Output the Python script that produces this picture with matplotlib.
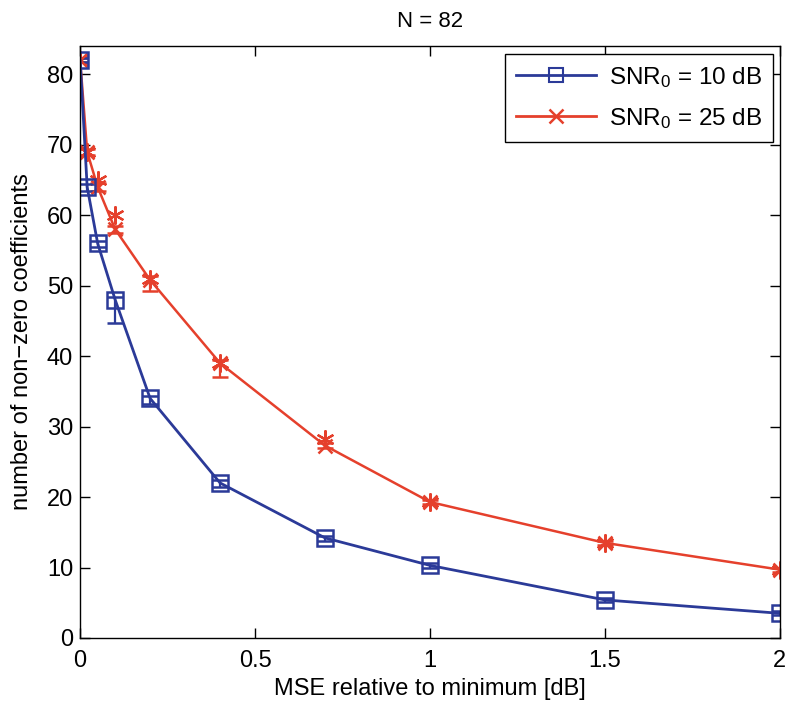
import numpy as np
import matplotlib
matplotlib.use('Agg')
import matplotlib.pyplot as plt
from matplotlib.lines import Line2D

plt.rcParams['font.family'] = ['Liberation Sans', 'DejaVu Sans']
plt.rcParams['mathtext.default'] = 'regular'

# MSE excess over the minimum [dB]
mse_blue = [0, 0.02, 0.05, 0.1, 0.2, 0.4, 0.7, 1.0, 1.5, 2.0]
mse_red = [0, 0.02, 0.05, 0.1, 0.2, 0.4, 0.7, 1.0, 1.5, 2.0]

# number of non-zero coefficients, mean and lower/upper spread
nz_blue = [82, 64, 56, 48, 34, 22, 14.2, 10.3, 5.4, 3.5]
lo_blue = [0.3, 0.5, 0.5, 3.3, 0.8, 0.6, 0.4, 0.3, 0.3, 0.3]
hi_blue = [0.3, 0.4, 0.4, 0.4, 0.4, 0.4, 0.3, 0.3, 0.3, 0.3]

nz_red = [82, 69, 64, 58, 50.8, 39, 27.3, 19.3, 13.5, 9.7]
lo_red = [0.3, 0.4, 0.5, 0.5, 1.6, 2.0, 0.4, 0.3, 0.3, 0.3]
hi_red = [0.3, 0.4, 0.5, 0.5, 0.5, 0.5, 0.4, 0.3, 0.3, 0.3]

# second run of the 25 dB case (asterisk markers)
nz_red2 = [82, 69, 65, 60, 51, 39, 28.3, 19.3, 13.5, 9.7]

BLUE = '#2b3a98'
RED = '#e5402c'

fig = plt.figure(figsize=(7.86, 7.03), dpi=100)
ax = fig.add_axes([0.102, 0.0925, 0.89, 0.842])

ax.plot(mse_red, nz_red2, ls='none', marker=(6, 2, 0), ms=13,
        mec=RED, mew=1.6, color=RED)
ax.errorbar(mse_red, nz_red, yerr=[lo_red, hi_red], color=RED, lw=1.8,
            marker='x', ms=10, mew=1.8, capsize=6, elinewidth=1.6,
            capthick=1.6)
ax.errorbar(mse_blue, nz_blue, yerr=[lo_blue, hi_blue], color=BLUE, lw=2.0,
            marker='s', ms=11, mfc='none', mew=1.8, capsize=6,
            elinewidth=1.6, capthick=1.6)

ax.set_xlim(0, 2)
ax.set_ylim(0, 84)
ax.set_xticks([0, 0.5, 1, 1.5, 2])
ax.set_xticklabels(['0', '0.5', '1', '1.5', '2'])
ax.set_yticks(np.arange(0, 81, 10))
ax.tick_params(direction='in', top=True, right=True, labelsize=17,
               length=7, width=1.0)
ax.tick_params(axis='x', pad=9)
ax.tick_params(axis='y', pad=5)
for s in ax.spines.values():
    s.set_linewidth(1.0)

ax.set_xlabel('MSE relative to minimum [dB]', fontsize=17, labelpad=4)
ax.set_ylabel('number of non\u2212zero coefficients', fontsize=17, labelpad=10)
ax.set_title('N = 82', fontsize=16, pad=14)

handles = [
    Line2D([], [], color=BLUE, lw=2.0, marker='s', ms=10, mfc='none', mew=1.5),
    Line2D([], [], color=RED, lw=2.0, marker='x', ms=10, mew=1.8),
]
labels = ['SNR$_0$ = 10 dB', 'SNR$_0$ = 25 dB']
leg = ax.legend(handles, labels, loc='upper right', fontsize=17.5,
                handlelength=3.3, handletextpad=0.5, fancybox=False,
                edgecolor='black', framealpha=1, borderpad=0.45,
                labelspacing=0.65, borderaxespad=0,
                bbox_to_anchor=(0.99, 0.9865))
leg.get_frame().set_linewidth(1.0)

fig.savefig('out.png', dpi=100)
